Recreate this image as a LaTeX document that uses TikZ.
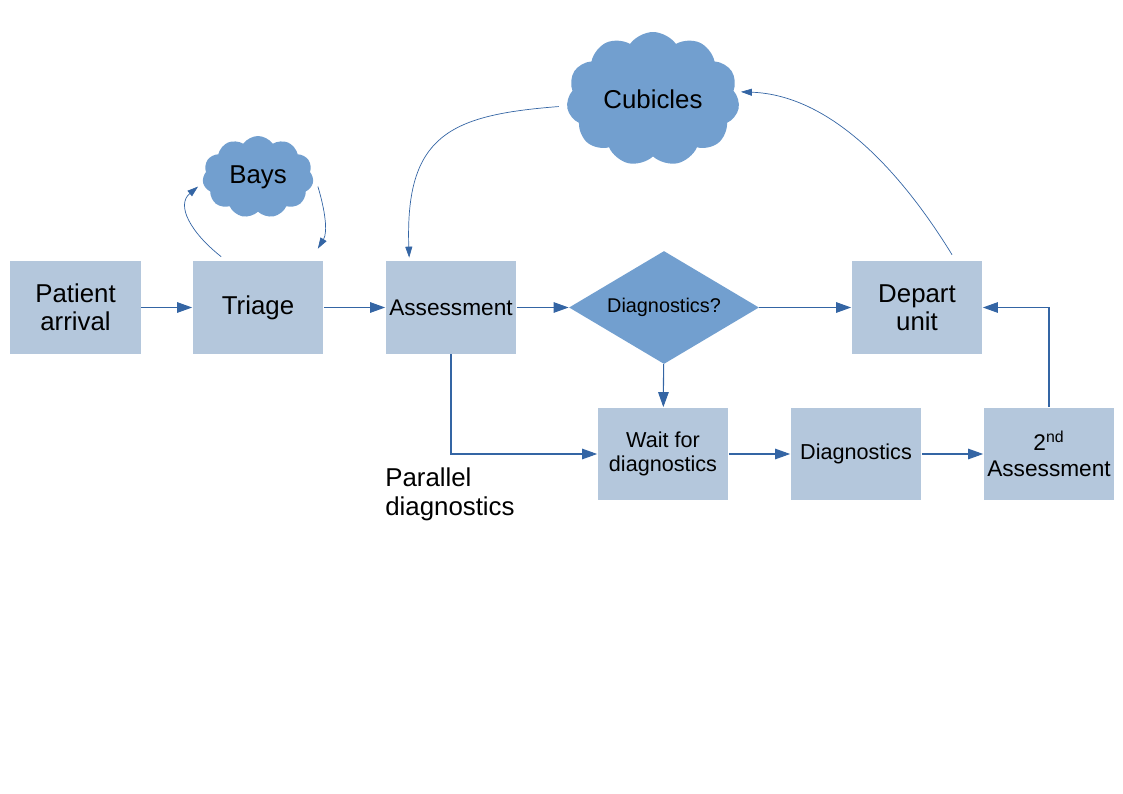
\documentclass[tikz,border=0pt]{standalone}
\usepackage{fontspec}
\setmainfont{Liberation Sans}
\usetikzlibrary{shapes.geometric,shapes.symbols,arrows.meta}
\definecolor{boxblue}{HTML}{B4C7DC}
\definecolor{cloudblue}{HTML}{729FCF}
\definecolor{linkblue}{HTML}{3465A4}
\begin{document}
\begin{tikzpicture}[x=0.02cm, y=-0.02cm,
  stage/.style={fill=boxblue, minimum width=2.62cm, minimum height=1.86cm, inner sep=0, align=center},
  room/.style={cloud, cloud puffs=11, cloud puff arc=110, cloud ignores aspect, fill=cloudblue, inner sep=0},
  link/.style={draw=linkblue, line width=0.6pt, -{Triangle[length=0.3cm, width=0.21cm]}},
  curvelink/.style={draw=linkblue, line width=0.4pt, -{Triangle[length=0.22cm, width=0.14cm]}}]

 \useasboundingbox (0,0) rectangle (1123,794);

 %%%%%%%%%% Stages %%%%%%%%%%
 \node[stage, font=\fontsize{14.7}{16}\selectfont] (arrival) at (75.5,307.5) {Patient\\arrival};
 \node[stage, font=\fontsize{14.7}{16}\selectfont] (triage) at (258,307.5) {Triage};
 \node[stage, font=\fontsize{12.9}{14}\selectfont] (assess) at (451,307.5) {Assessment};
 \node[diamond, fill=cloudblue, minimum width=3.8cm, minimum height=2.26cm, aspect=1.68, inner sep=0,
       font=\fontsize{11.3}{13}\selectfont] (decide) at (664,307.5) {Diagnostics?};
 \node[stage, font=\fontsize{14.7}{16}\selectfont] (depart) at (917,307.5) {Depart\\unit};
 \node[stage, font=\fontsize{12.3}{13.6}\selectfont] (wait) at (663,454) {Wait for\\diagnostics};
 \node[stage, font=\fontsize{12.3}{13.6}\selectfont] (diag) at (856,454) {Diagnostics};
 \node[stage, font=\fontsize{12.9}{15}\selectfont] (second) at (1049,454) {2\textsuperscript{nd}\\Assessment};

 %%%%%%%%%% Clouds %%%%%%%%%%
 \node[room, minimum width=2.22cm, minimum height=1.64cm, font=\fontsize{14.7}{16}\selectfont] (bays) at (258,177) {Bays};
 \node[room, minimum width=3.46cm, minimum height=2.68cm, font=\fontsize{14.7}{16}\selectfont] (cubicles) at (653,99) {Cubicles};

 \node[anchor=north west, align=left, inner sep=0, font=\fontsize{14.7}{17}\selectfont] (parallel) at (385,467) {Parallel\\diagnostics};

 %%%%%%%%%% Flow %%%%%%%%%%
 \draw[link] (arrival) -- (triage);
 \draw[link] (triage) -- (assess);
 \draw[link] (assess) -- (decide);
 \draw[link] (decide) -- (depart);
 \draw[link] (decide) -- (wait);
 \draw[link] (assess.south) |- (wait.west);
 \draw[link] (wait) -- (diag);
 \draw[link] (diag) -- (second);
 \draw[link] (second.north) |- (depart.east);

 %%%%%%%%%% Loops to the clouds %%%%%%%%%%
 \draw[curvelink] ([shift={(29,-4)}]triage.north west) .. controls (190,232) and (176,205) .. ([shift={(-6,0)}]bays.190);
 \draw[curvelink] ([shift={(6,0)}]bays.-10) .. controls (325,210) and (328,232) .. ([shift={(-6,-12)}]triage.north east);
 \draw[curvelink] ([shift={(-8,0)}]cubicles.185) .. controls (450,115) and (405,135) .. ([shift={(24,-3)}]assess.north west);
 \draw[curvelink] ([shift={(35,-6)}]depart.north) .. controls (900,170) and (830,95) .. ([shift={(6,0)}]cubicles.5);

\end{tikzpicture}
\end{document}
